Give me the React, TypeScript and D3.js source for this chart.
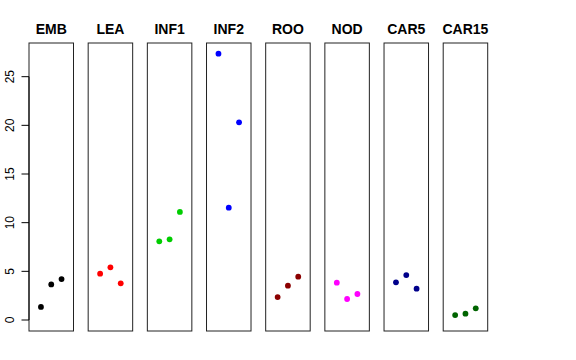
import React from "react";
import * as d3 from "d3";

const categories = ["EMB", "LEA", "INF1", "INF2", "ROO", "NOD", "CAR5", "CAR15"];
const colors = ["#000000", "#FF0000", "#00CD00", "#0000FF", "#8B0000", "#FF00FF", "#00008B", "#006400"];
const replicateValues = [
  [1.34, 3.66, 4.21],
  [4.76, 5.41, 3.77],
  [8.08, 8.29, 11.1],
  [27.36, 11.54, 20.31],
  [2.36, 3.53, 4.45],
  [3.84, 2.16, 2.67],
  [3.87, 4.62, 3.22],
  [0.51, 0.65, 1.2],
];
// INF2 order: first at x=1 (27.36), second at x=2 (11.54), third at x=3 (20.31)
const yTicks = [0, 5, 10, 15, 20, 25];

const W = 576;
const H = 360;
const top = 43;
const bottom = 331;

export default function App() {
  const band = d3
    .scaleBand<string>()
    .domain(categories)
    .range([29, 487.7])
    .paddingInner(0.248)
    .paddingOuter(0);
  const bw = band.bandwidth();
  const x = d3.scaleLinear().domain([-0.16, 4.16]).range([0, bw]);
  const y = d3.scaleLinear().domain([-1.13, 28.46]).range([bottom, top]);
  const x0 = band(categories[0]) as number;

  return (
    <svg
      width={W}
      height={H}
      style={{ position: "absolute", left: 0, top: 0, background: "#fff" }}
      fontFamily="'Liberation Sans', Arial, sans-serif"
    >
      <rect x={0} y={0} width={W} height={H} fill="#fff" />
      {categories.map((c, i) => {
        const bx = band(c) as number;
        return (
          <g key={c} transform={`translate(${bx},0)`}>
            <rect x={0} y={top} width={bw} height={bottom - top} fill="none" stroke="#222" strokeWidth={1} />
            <text x={bw / 2} y={34} textAnchor="middle" fontWeight="bold" fontSize={14} fill="#000">
              {c}
            </text>
            {replicateValues[i].map((v, j) => (
              <circle key={j} cx={x(j + 1)} cy={y(v)} r={2.9} fill={colors[i]} />
            ))}
          </g>
        );
      })}
      <line x1={x0} x2={x0} y1={y(0)} y2={y(25)} stroke="#000" />
      {yTicks.map((t) => (
        <g key={t}>
          <line x1={x0 - 7.5} x2={x0} y1={y(t)} y2={y(t)} stroke="#000" />
          <text
            transform={`translate(${13.5},${y(t)}) rotate(-90)`}
            textAnchor="middle"
            fontSize={12}
            fill="#000"
          >
            {t}
          </text>
        </g>
      ))}
    </svg>
  );
}
